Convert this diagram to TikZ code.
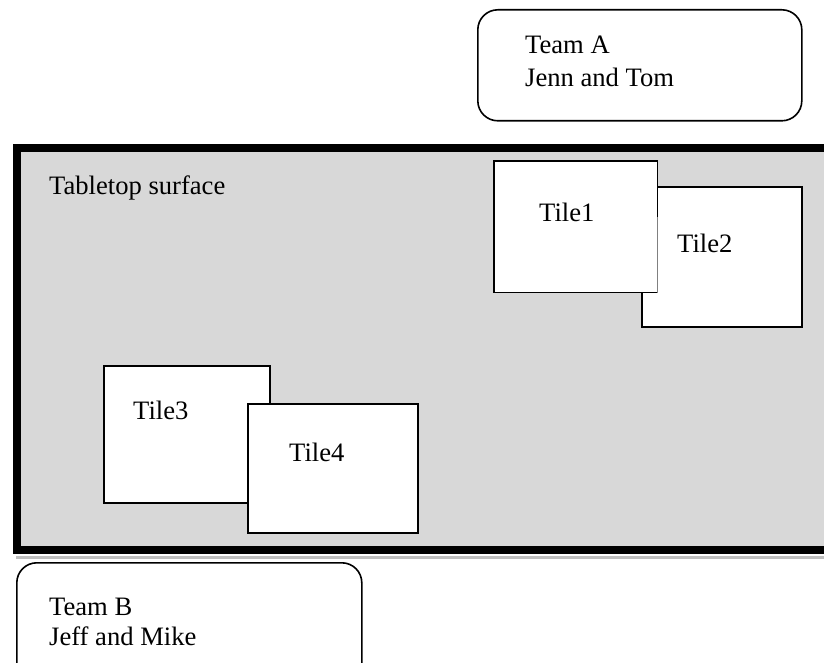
\documentclass[tikz,border=0pt]{standalone}
\usepackage{fontspec}
\setmainfont{Liberation Serif}
\definecolor{tablegray}{HTML}{D8D8D8}
\definecolor{shadowgray}{HTML}{BFBFBF}
\begin{document}
\begin{tikzpicture}[x=1pt,y=-1pt,
  tile/.style={fill=white,draw=black,line width=1.6pt,inner sep=0pt,anchor=north west},
  team/.style={draw=black,line width=1.6pt,rounded corners=20pt,fill=white,inner sep=0pt,anchor=north west},
  lbl/.style={anchor=base west,inner sep=0pt,font=\fontsize{26.6}{33}\selectfont}]
\useasboundingbox (0,0) rectangle (824,663);
\begin{scope}
\clip (0,0) rectangle (824,663);
% tabletop
\draw[line width=3pt,shadowgray] (16,557.5) -- (840,557.5);
\draw[line width=8pt,fill=tablegray] (17,148) rectangle (850,550);
\node[lbl] (tabletop) at (49,195) {Tabletop surface};
% tiles 2 and 1
\node[tile,minimum width=160pt,minimum height=140pt] (t2) at (641,186) {};
\node[lbl] (t2lbl) at (677,252) {Tile2};
\node[tile,draw=none,minimum width=162pt,minimum height=130pt] (t1) at (494,161) {};
\draw[line width=1.6pt] ([yshift=-56pt]t1.north east) -- (t1.north east) -- (t1.north west) -- (t1.south west) -- (t1.south east);
\draw[line width=0.7pt,gray] ([yshift=-56pt]t1.north east) -- (t1.south east);
\node[lbl] (t1lbl) at (539,221) {Tile1};
% tiles 3 and 4
\node[tile,minimum width=166pt,minimum height=137pt] (t3) at (103,365) {};
\node[lbl] (t3lbl) at (133,419) {Tile3};
\node[tile,minimum width=170pt,minimum height=129pt] (t4) at (247,403) {};
\node[lbl] (t4lbl) at (289,461) {Tile4};
% teams
\node[team,minimum width=324pt,minimum height=111pt] (teamA) at (477,9) {};
\node[lbl] (teamAlbl) at (525,54) {Team A};
\node[lbl] (teamAnames) at (525,87) {Jenn and Tom};
\node[team,minimum width=345pt,minimum height=125pt] (teamB) at (16,562) {};
\node[lbl] (teamBlbl) at (49,615) {Team B};
\node[lbl] (teamBnames) at (49,645) {Jeff and Mike};
\end{scope}
\end{tikzpicture}
\end{document}
